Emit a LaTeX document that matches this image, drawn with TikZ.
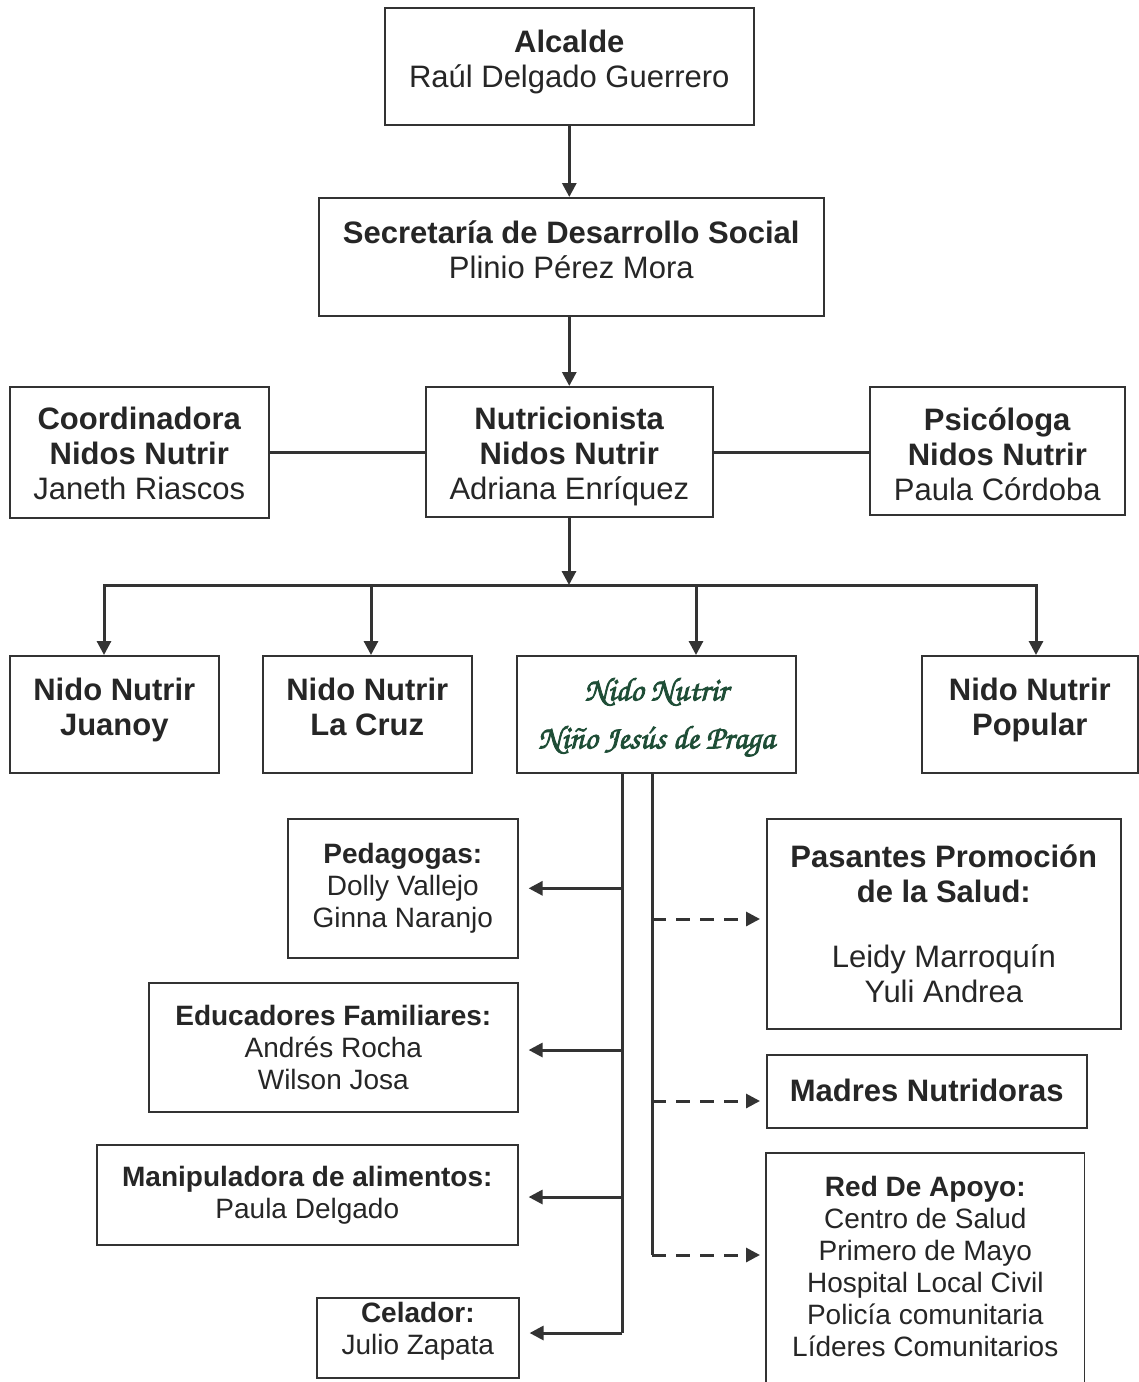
\documentclass[tikz,border=0pt]{standalone}
\usepackage{fontspec}
\setmainfont{Liberation Sans}
\newfontfamily\chorus[FakeBold=2.4]{texgyrechorus-mediumitalic.otf}
\usetikzlibrary{arrows.meta}
\definecolor{ink}{HTML}{333333}
\definecolor{txt}{HTML}{262626}
\definecolor{scriptgreen}{HTML}{1E4D36}
\begin{document}
\begin{tikzpicture}[x=1pt,y=-1pt,
  box/.style={draw=ink, line width=1.6pt, inner sep=0pt, anchor=north west},
  lab/.style={align=center, text=txt, inner sep=0pt},
  big/.style={font=\fontsize{31}{35}\selectfont},
  small/.style={font=\fontsize{28}{32}\selectfont},
  link/.style={draw=ink, line width=3pt},
  arr/.style={link, -{Triangle[length=14pt,width=14pt]}},
  darr/.style={link, dash pattern=on 14pt off 10pt, -{Triangle[length=14pt,width=14pt]}}
]
\useasboundingbox (0,0) rectangle (1139,1382);
\fill[white] (0,0) rectangle (1139,1382);

% top chain
\node[box,minimum width=369pt,minimum height=117pt,
  label={[lab,big,yshift=4.5pt,name=alct]center:{\textbf{Alcalde}\\Raúl Delgado Guerrero}}] (alc) at (384,7) {};
\node[box,minimum width=505pt,minimum height=118pt,
  label={[lab,big,yshift=7.5pt,name=sect]center:{\textbf{Secretaría de Desarrollo Social}\\Plinio Pérez Mora}}] (sec) at (318,197) {};
\node[box,minimum width=287pt,minimum height=130pt,
  label={[lab,big,yshift=-5pt,name=nutt]center:{\textbf{Nutricionista}\\\textbf{Nidos Nutrir}\\Adriana Enríquez}}] (nut) at (425,386) {};
\node[box,minimum width=259pt,minimum height=131pt,
  label={[lab,big,yshift=-1.5pt,name=coot]center:{\textbf{Coordinadora}\\\textbf{Nidos Nutrir}\\Janeth Riascos}}] (coo) at (9,386) {};
\node[box,minimum width=255pt,minimum height=128pt,
  label={[lab,big,yshift=-3.5pt,name=psit]center:{\textbf{Psicóloga}\\\textbf{Nidos Nutrir}\\Paula Córdoba}}] (psi) at (869,386) {};

\draw[arr] (alc.south) -- (alc.south |- sec.north);
\draw[arr] (sec.south -| nut.north) -- (nut.north);
\draw[link] (coo.east |- 0,452) -- (nut.west |- 0,452);
\draw[link] (nut.east |- 0,452) -- (psi.west |- 0,452);

% nidos
\node[box,minimum width=209pt,minimum height=117pt,
  label={[lab,big,yshift=4pt,name=juat]center:{\textbf{Nido Nutrir}\\\textbf{Juanoy}}}] (jua) at (9,655) {};
\node[box,minimum width=209pt,minimum height=117pt,
  label={[lab,big,yshift=7pt,name=crut]center:{\textbf{Nido Nutrir}\\\textbf{La Cruz}}}] (cru) at (262,655) {};
\node[box,minimum width=279pt,minimum height=117pt,
  label={[lab,text=scriptgreen,yshift=-3pt,name=nint,font=\chorus\fontsize{33}{48}\selectfont]center:{Nido Nutrir\\Niño Jesús de Praga}}] (nin) at (516,655) {};
\node[box,minimum width=216pt,minimum height=117pt,
  label={[lab,big,yshift=4pt,name=popt]center:{\textbf{Nido Nutrir}\\\textbf{Popular}}}] (pop) at (921,655) {};

\coordinate (bar) at (569,585);
\coordinate (bL) at (104,585);
\coordinate (bC) at (371,585);
\coordinate (bN) at (696,585);
\coordinate (bR) at (1036,585);
\draw[arr] (nut.south -| bar) -- (bar);
\draw[link, line cap=rect] (bL) -- (bR);
\draw[arr] (bL) -- (bL |- jua.north);
\draw[arr] (bC) -- (bC |- cru.north);
\draw[arr] (bN) -- (bN |- nin.north);
\draw[arr] (bR) -- (bR |- pop.north);

% staff left
\node[box,minimum width=230pt,minimum height=139pt,
  label={[lab,small,name=pedt]center:{\textbf{Pedagogas:}\\Dolly Vallejo\\Ginna Naranjo}}] (ped) at (287,818) {};
\node[box,minimum width=369pt,minimum height=129pt,
  label={[lab,small,name=edut]center:{\textbf{Educadores Familiares:}\\Andrés Rocha\\Wilson Josa}}] (edu) at (148,982) {};
\node[box,minimum width=421pt,minimum height=100pt,
  label={[lab,small,name=mant]center:{\textbf{Manipuladora de alimentos:}\\Paula Delgado}}] (man) at (96,1144) {};
\node[box,minimum width=202pt,minimum height=80pt,
  label={[lab,small,yshift=7pt,name=celt]center:{\textbf{Celador:}\\Julio Zapata}}] (cel) at (316,1297) {};

% staff right
\node[box,minimum width=354pt,minimum height=210pt,
  label={[lab,big,name=past]center:{\textbf{Pasantes Promoción}\\\textbf{de la Salud:}\\[30pt]Leidy Marroquín\\Yuli Andrea}}] (pas) at (766,818) {};
\node[box,minimum width=320pt,minimum height=73pt,
  label={[lab,big,yshift=1pt,name=madt]center:{\textbf{Madres Nutridoras}}}] (mad) at (766,1054) {};
\node[box,draw=none,minimum width=317pt,minimum height=226pt,
  label={[lab,small,name=redt]center:{\textbf{Red De Apoyo:}\\Centro de Salud\\Primero de Mayo\\Hospital Local Civil\\Policía comunitaria\\Líderes Comunitarios}}] (red) at (766,1153) {};
\draw[draw=ink, line width=1.6pt] ([yshift=-30pt]red.south west) -- (red.north west)
  -- (red.north east) -- ([yshift=-30pt]red.south east);

% trunks
\coordinate (tL) at (622,772);
\coordinate (tR) at (652,772);
\coordinate (tLe) at (622,1333);
\coordinate (tRe) at (652,1255);
\draw[link] (tL) -- (tLe);
\draw[link] (tR) -- (tRe);

\draw[arr, shorten >=10pt] (tL |- ped.east) -- (ped.east);
\draw[arr, shorten >=10pt] (622,1050) -- (edu.east |- 0,1050);
\draw[arr, shorten >=10pt] (622,1197) -- (man.east |- 0,1197);
\draw[arr, shorten >=10pt] (tLe) -- (cel.east |- tLe);

\draw[darr, shorten >=6pt] (652,919) -- (pas.west |- 0,919);
\draw[darr, shorten >=6pt] (652,1101) -- (mad.west |- 0,1101);
\draw[darr, shorten >=6pt] (tRe) -- (red.west |- tRe);
\end{tikzpicture}
\end{document}
